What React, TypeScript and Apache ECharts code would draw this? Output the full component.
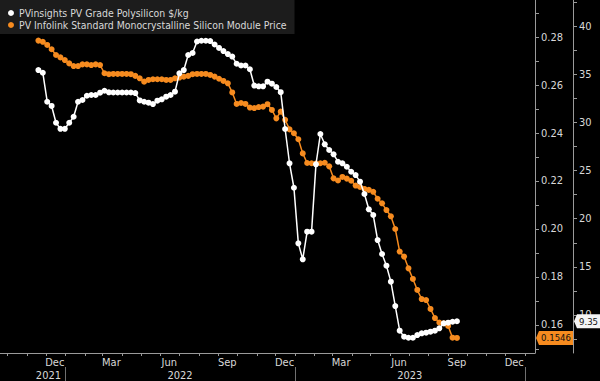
import { useEffect, useRef } from 'react';
import * as echarts from 'echarts';

// Weekly observation dates
const DATES = [
  '2021-11-19', '2021-11-26', '2021-12-03', '2021-12-10', '2021-12-17', '2021-12-24', '2021-12-31',
  '2022-01-07', '2022-01-14', '2022-01-21', '2022-01-28', '2022-02-04', '2022-02-11', '2022-02-18', '2022-02-25',
  '2022-03-04', '2022-03-11', '2022-03-18', '2022-03-25', '2022-04-01', '2022-04-08', '2022-04-15', '2022-04-22',
  '2022-04-29', '2022-05-06', '2022-05-13', '2022-05-20', '2022-05-27', '2022-06-03', '2022-06-10', '2022-06-17',
  '2022-06-24', '2022-07-01', '2022-07-08', '2022-07-15', '2022-07-22', '2022-07-29', '2022-08-05', '2022-08-12',
  '2022-08-19', '2022-08-26', '2022-09-02', '2022-09-09', '2022-09-16', '2022-09-23', '2022-09-30', '2022-10-07',
  '2022-10-14', '2022-10-21', '2022-10-28', '2022-11-04', '2022-11-11', '2022-11-18', '2022-11-25', '2022-12-02',
  '2022-12-09', '2022-12-16', '2022-12-23', '2022-12-30',
  '2023-01-06', '2023-01-13', '2023-01-20', '2023-01-27', '2023-02-03', '2023-02-10', '2023-02-17', '2023-02-24',
  '2023-03-03', '2023-03-10', '2023-03-17', '2023-03-24', '2023-03-31', '2023-04-07', '2023-04-14', '2023-04-21',
  '2023-04-28', '2023-05-05', '2023-05-12', '2023-05-19', '2023-05-26', '2023-06-02', '2023-06-09', '2023-06-16',
  '2023-06-23', '2023-06-30', '2023-07-07', '2023-07-14', '2023-07-21', '2023-07-28', '2023-08-04', '2023-08-11',
  '2023-08-18', '2023-08-25', '2023-09-01', '2023-09-08', '2023-09-15',
];

const POLY_NAME = 'PVinsights PV Grade Polysilicon $/kg';
const MODULE_NAME = 'PV Infolink Standard Monocrystalline Silicon Module Price';

// $/kg (right outer axis)
const POLYSILICON = [
  35.43, 35.15, 32.14, 31.70, 29.96, 29.33, 29.33, 29.96, 30.58, 32.14,
  32.32, 32.76, 32.84, 32.84, 33.08, 33.28, 33.12, 33.10, 33.10, 33.10,
  33.10, 33.10, 33.04, 32.27, 32.14, 32.04, 31.90, 32.25, 32.39, 32.66,
  32.84, 33.18, 35.09, 35.43, 36.99, 37.20, 38.39, 38.47, 38.47, 38.44,
  38.08, 37.72, 37.40, 37.09, 36.83, 36.08, 35.90, 35.90, 35.51, 33.82,
  33.74, 33.74, 34.22, 34.01, 33.67, 33.13, 29.31, 25.75, 23.21, 17.44,
  15.78, 18.65, 18.65, 25.64, 28.79, 27.72, 27.13, 26.68, 25.91, 25.75,
  25.39, 24.87, 24.53, 23.84, 22.56, 20.97, 20.38, 17.78, 16.33, 15.12,
  13.46, 10.93, 8.37, 7.75, 7.64, 7.64, 7.92, 8.10, 8.16, 8.27,
  8.37, 8.62, 9.14, 9.20, 9.30, 9.35,
];

// $/W (right inner axis)
const MODULE = [
  0.2785, 0.2780, 0.2767, 0.2749, 0.2725, 0.2715, 0.2704, 0.2690, 0.2679, 0.2679,
  0.2686, 0.2686, 0.2683, 0.2686, 0.2683, 0.2649, 0.2645, 0.2646, 0.2646, 0.2646,
  0.2646, 0.2645, 0.2638, 0.2628, 0.2614, 0.2621, 0.2624, 0.2624, 0.2624, 0.2621,
  0.2621, 0.2628, 0.2631, 0.2635, 0.2638, 0.2645, 0.2646, 0.2646, 0.2646, 0.2642,
  0.2635, 0.2626, 0.2617, 0.2607, 0.2569, 0.2521, 0.2525, 0.2521, 0.2506, 0.2504,
  0.2508, 0.2510, 0.2520, 0.2496, 0.2461, 0.2489, 0.2455, 0.2415, 0.2399, 0.2374,
  0.2315, 0.2275, 0.2274, 0.2273, 0.2274, 0.2276, 0.2261, 0.2211, 0.2202, 0.2217,
  0.2210, 0.2201, 0.2181, 0.2175, 0.2167, 0.2163, 0.2155, 0.2126, 0.2107, 0.2079,
  0.2053, 0.2000, 0.1906, 0.1885, 0.1836, 0.1792, 0.1746, 0.1708, 0.1704, 0.1667,
  0.1629, 0.1610, 0.1607, 0.1596, 0.1547, 0.1546,
];

const X_MIN = '2021-09-19';
const X_MAX = '2024-01-17';
const MONTH_NAMES = ['Jan', 'Feb', 'Mar', 'Apr', 'May', 'Jun', 'Jul', 'Aug', 'Sep', 'Oct', 'Nov', 'Dec'];
const MONTH_LABEL_DATES = [
  '2021-12-15', '2022-03-15', '2022-06-15', '2022-09-15', '2022-12-15',
  '2023-03-15', '2023-06-15', '2023-09-15', '2023-12-15',
];
const YEAR_LABEL_DATES = ['2021-12-05', '2022-07-02', '2023-07-02'];
const YEAR_BOUNDS = ['2022-01-01', '2023-01-01', '2024-01-01'];

const INNER_LABELS = [0.16, 0.18, 0.2, 0.22, 0.24, 0.26, 0.28];
const INNER_TICKS = [0.15, 0.16, 0.17, 0.18, 0.19, 0.2, 0.21, 0.22, 0.23, 0.24, 0.25, 0.26, 0.27, 0.28, 0.29];
const OUTER_LABELS = [10, 15, 20, 25, 30, 35, 40];
const OUTER_TICKS = [7.5, 10, 12.5, 15, 17.5, 20, 22.5, 25, 27.5, 30, 32.5, 35, 37.5, 40, 42.5];

const ts = (s: string) => new Date(s + 'T00:00:00').getTime();

const FONT = "'Liberation Sans Narrow', 'DejaVu Sans Condensed', 'Liberation Sans', sans-serif";
const WHITE = '#ffffff';
const ORANGE = '#f68b1f';
const AXIS = '#9a9a9a';
const LABEL = '#d8d8d8';

export default function App() {
  const ref = useRef<HTMLDivElement>(null);

  useEffect(() => {
    if (!ref.current) return;
    const chart = echarts.init(ref.current, null, { renderer: 'svg' });

    const monthTicks: number[] = [];
    for (let y = 2021; y <= 2024; y++) {
      for (let m = 0; m < 12; m++) {
        const t = new Date(y, m, 1).getTime();
        if (t > ts(X_MIN) && t < ts(X_MAX)) monthTicks.push(t);
      }
    }

    const polyData = DATES.map((d, i) => [ts(d), POLYSILICON[i]]);
    const moduleData = DATES.map((d, i) => [ts(d), MODULE[i]]);

    chart.setOption({
      animation: false,
      backgroundColor: '#000000',
      textStyle: { fontFamily: FONT },
      grid: { left: 0, right: 65, top: 0, bottom: 28, containLabel: false },
      legend: {
        data: [POLY_NAME, MODULE_NAME],
        orient: 'vertical',
        left: 0,
        top: 0,
        backgroundColor: '#1c1c1c',
        padding: [7, 8, 3, 8],
        itemGap: 0,
        itemWidth: 6,
        itemHeight: 6,
        icon: 'circle',
        textStyle: { color: LABEL, fontSize: 10.4, lineHeight: 12, fontFamily: FONT },
      },
      xAxis: [
        {
          type: 'value',
          min: ts(X_MIN),
          max: ts(X_MAX),
          position: 'bottom',
          axisLine: { show: true, lineStyle: { color: AXIS, width: 1 } },
          axisTick: { show: true, length: 3, lineStyle: { color: AXIS }, customValues: monthTicks },
          axisLabel: {
            color: LABEL,
            fontSize: 11,
            margin: 4,
            fontFamily: FONT,
            customValues: MONTH_LABEL_DATES.map(ts),
            formatter: (v: number) => MONTH_NAMES[new Date(v).getMonth()],
          },
          splitLine: { show: false },
        },
        {
          type: 'value',
          min: ts(X_MIN),
          max: ts(X_MAX),
          position: 'bottom',
          offset: 14,
          axisLine: { show: false },
          axisTick: { show: true, length: 14, lineStyle: { color: '#707070' }, customValues: YEAR_BOUNDS.map(ts) },
          axisLabel: {
            color: LABEL,
            fontSize: 11,
            margin: 3,
            fontFamily: FONT,
            customValues: YEAR_LABEL_DATES.map(ts),
            formatter: (v: number) => String(new Date(v).getFullYear()),
          },
          splitLine: { show: false },
        },
      ],
      yAxis: [
        {
          type: 'value',
          position: 'right',
          min: 0.14833,
          max: 0.29542,
          axisLine: { show: true, lineStyle: { color: AXIS } },
          axisTick: { show: true, length: 4, inside: false, lineStyle: { color: AXIS }, customValues: INNER_TICKS },
          axisLabel: {
            color: LABEL,
            fontSize: 11,
            margin: 6,
            fontFamily: FONT,
            customValues: INNER_LABELS,
            formatter: (v: number) => v.toFixed(2),
          },
          splitLine: { show: false },
        },
        {
          type: 'value',
          position: 'right',
          offset: 38,
          min: 6.055,
          max: 42.7,
          axisLine: { show: true, lineStyle: { color: AXIS } },
          axisTick: { show: true, length: 4, inside: false, lineStyle: { color: AXIS }, customValues: OUTER_TICKS },
          axisLabel: {
            color: LABEL,
            fontSize: 11,
            margin: 6,
            fontFamily: FONT,
            customValues: OUTER_LABELS,
            formatter: (v: number) => String(v),
          },
          splitLine: { show: false },
        },
      ],
      series: [
        {
          name: MODULE_NAME,
          type: 'line',
          xAxisIndex: 0,
          yAxisIndex: 0,
          data: moduleData,
          symbol: 'circle',
          symbolSize: 6,
          showSymbol: true,
          showAllSymbol: true,
          itemStyle: { color: ORANGE },
          lineStyle: { color: ORANGE, width: 1.5 },
          z: 2,
        },
        {
          name: POLY_NAME,
          type: 'line',
          xAxisIndex: 0,
          yAxisIndex: 1,
          data: polyData,
          symbol: 'circle',
          symbolSize: 6,
          showSymbol: true,
          showAllSymbol: true,
          itemStyle: { color: WHITE },
          lineStyle: { color: WHITE, width: 1.5 },
          z: 3,
        },
      ],
    });

    // Last-value tags on the axes
    const lastModule = MODULE[MODULE.length - 1];
    const lastPoly = POLYSILICON[POLYSILICON.length - 1];
    const xInner = chart.convertToPixel({ xAxisIndex: 0 }, ts(X_MAX)) as number;
    const xOuter = xInner + 38;
    const yM = chart.convertToPixel({ yAxisIndex: 0 }, lastModule) as number;
    const yP = chart.convertToPixel({ yAxisIndex: 1 }, lastPoly) as number;

    const tag = (x0: number, x1: number, y: number, fill: string, text: string) => ({
      type: 'group',
      z: 100,
      children: [
        {
          type: 'polygon',
          shape: {
            points: [
              [x0 + 1, y],
              [x0 + 4, y - 7],
              [x1, y - 7],
              [x1, y + 7],
              [x0 + 4, y + 7],
            ],
          },
          style: { fill },
          z: 100,
        },
        {
          type: 'text',
          x: (x0 + 4 + x1) / 2,
          y,
          style: {
            text,
            fill: '#111111',
            fontSize: 9.5,
            fontFamily: FONT,
            align: 'center',
            verticalAlign: 'middle',
          },
          z: 101,
        },
      ],
    });

    chart.setOption({
      graphic: [
        tag(xInner, xOuter, yM, ORANGE, lastModule.toFixed(4)),
        tag(xOuter, 600, yP, '#f4f4f4', lastPoly.toFixed(2)),
      ],
    });

    return () => chart.dispose();
  }, []);

  return (
    <div
      ref={ref}
      style={{ position: 'fixed', left: 0, top: 0, width: 600, height: 381 }}
    />
  );
}
